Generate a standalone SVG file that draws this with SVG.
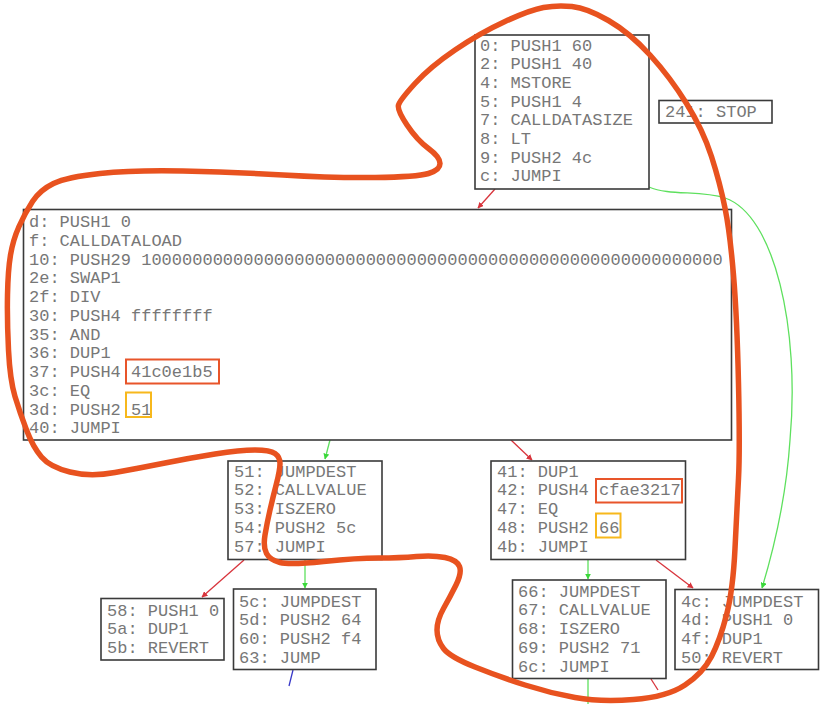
<svg xmlns="http://www.w3.org/2000/svg" width="827" height="704" viewBox="0 0 827 704">
<style>
.box{fill:#fff;stroke:#3a3a3a;stroke-width:1.6}
.t{font-family:"Liberation Mono","DejaVu Sans Mono",monospace;font-size:17px;fill:#777}
.e{fill:none;stroke-width:1.3}
.r{stroke:#d8343c}
.g{stroke:#5ee05e}
.b{stroke:#3838c8}
.hr{fill:none;stroke:#e8552a;stroke-width:2}
.hy{fill:none;stroke:#f7b81c;stroke-width:2}
.loop{fill:none;stroke:#e8521f;stroke-width:5.5;stroke-linejoin:round}
</style>
<defs>
<marker id="ar" viewBox="0 0 10 10" refX="9" refY="5" markerWidth="6" markerHeight="6" markerUnits="userSpaceOnUse" orient="auto"><path d="M0,0L10,5L0,10z" fill="#d8343c"/></marker>
<marker id="ag" viewBox="0 0 10 10" refX="9" refY="5" markerWidth="6" markerHeight="6" markerUnits="userSpaceOnUse" orient="auto"><path d="M0,0L10,5L0,10z" fill="#3ad83a"/></marker>
</defs>
<rect width="827" height="704" fill="#fff"/>
<g id="connectors">
<path class="e r" d="M495,189L478,208" marker-end="url(#ar)"/>
<path class="e g" d="M649,187C670,196 700,190 725,198C775,215 800,330 790,440C786,500 772,555 762,588" marker-end="url(#ag)"/>
<path class="e g" d="M330,440L325,459" marker-end="url(#ag)"/>
<path class="e r" d="M511,440L532,460" marker-end="url(#ar)"/>
<path class="e r" d="M244,560L202,597" marker-end="url(#ar)"/>
<path class="e g" d="M305,560L305,588" marker-end="url(#ag)"/>
<path class="e b" d="M293,670L289,686"/>
<path class="e g" d="M588,560L588,579" marker-end="url(#ag)"/>
<path class="e r" d="M656,560L693,588" marker-end="url(#ar)"/>
<path class="e g" d="M588,679L588,704"/>
<path class="e r" d="M651,679L658,690"/>
</g>
<g id="n0">
<rect class="box" x="475" y="35" width="174" height="154"/>
<text class="t" x="480" y="50.5">0: PUSH1 60</text>
<text class="t" x="480" y="69.2">2: PUSH1 40</text>
<text class="t" x="480" y="87.9">4: MSTORE</text>
<text class="t" x="480" y="106.6">5: PUSH1 4</text>
<text class="t" x="480" y="125.3">7: CALLDATASIZE</text>
<text class="t" x="480" y="144">8: LT</text>
<text class="t" x="480" y="162.7">9: PUSH2 4c</text>
<text class="t" x="480" y="181.4">c: JUMPI</text>
</g>
<g id="n241">
<rect class="box" x="659" y="100.5" width="113" height="22.5"/>
<text class="t" x="665" y="116.5">241: STOP</text>
</g>
<g id="nd">
<rect class="box" x="23.5" y="209.5" width="708" height="230.5"/>
<text class="t" x="29" y="227">d: PUSH1 0</text>
<text class="t" x="29" y="245.75">f: CALLDATALOAD</text>
<text class="t" x="29" y="264.5">10: PUSH29 100000000000000000000000000000000000000000000000000000000</text>
<text class="t" x="29" y="283.25">2e: SWAP1</text>
<text class="t" x="29" y="302">2f: DIV</text>
<text class="t" x="29" y="320.75">30: PUSH4 ffffffff</text>
<text class="t" x="29" y="339.5">35: AND</text>
<text class="t" x="29" y="358.25">36: DUP1</text>
<text class="t" x="29" y="377">37: PUSH4 41c0e1b5</text>
<text class="t" x="29" y="395.75">3c: EQ</text>
<text class="t" x="29" y="414.5">3d: PUSH2 51</text>
<text class="t" x="29" y="433.25">40: JUMPI</text>
<rect class="hr" x="126" y="359.5" width="93" height="24"/>
<rect class="hy" x="126" y="392.5" width="25" height="24.5"/>
</g>
<g id="n51">
<rect class="box" x="228" y="461" width="154" height="98.5"/>
<text class="t" x="234" y="476.7">51: JUMPDEST</text>
<text class="t" x="234" y="495.45">52: CALLVALUE</text>
<text class="t" x="234" y="514.2">53: ISZERO</text>
<text class="t" x="234" y="532.95">54: PUSH2 5c</text>
<text class="t" x="234" y="551.7">57: JUMPI</text>
</g>
<g id="n41">
<rect class="box" x="491" y="461" width="194.5" height="98.5"/>
<text class="t" x="497" y="476.7">41: DUP1</text>
<text class="t" x="497" y="495.45">42: PUSH4 cfae3217</text>
<text class="t" x="497" y="514.2">47: EQ</text>
<text class="t" x="497" y="532.95">48: PUSH2 66</text>
<text class="t" x="497" y="551.7">4b: JUMPI</text>
<rect class="hr" x="596" y="479" width="86" height="23.5"/>
<rect class="hy" x="596" y="513.5" width="24.5" height="24"/>
</g>
<g id="n58">
<rect class="box" x="101" y="598.5" width="123" height="61.5"/>
<text class="t" x="107" y="615.7">58: PUSH1 0</text>
<text class="t" x="107" y="634.45">5a: DUP1</text>
<text class="t" x="107" y="653.2">5b: REVERT</text>
</g>
<g id="n5c">
<rect class="box" x="233.5" y="589" width="142.5" height="80.5"/>
<text class="t" x="239" y="606.7">5c: JUMPDEST</text>
<text class="t" x="239" y="625.45">5d: PUSH2 64</text>
<text class="t" x="239" y="644.2">60: PUSH2 f4</text>
<text class="t" x="239" y="662.95">63: JUMP</text>
</g>
<g id="n66">
<rect class="box" x="512.5" y="580" width="153.5" height="98.5"/>
<text class="t" x="518" y="596.7">66: JUMPDEST</text>
<text class="t" x="518" y="615.45">67: CALLVALUE</text>
<text class="t" x="518" y="634.2">68: ISZERO</text>
<text class="t" x="518" y="652.95">69: PUSH2 71</text>
<text class="t" x="518" y="671.7">6c: JUMPI</text>
</g>
<g id="n4c">
<rect class="box" x="675" y="589.5" width="143.5" height="80"/>
<text class="t" x="681" y="606.7">4c: JUMPDEST</text>
<text class="t" x="681" y="625.45">4d: PUSH1 0</text>
<text class="t" x="681" y="644.2">4f: DUP1</text>
<text class="t" x="681" y="662.95">50: REVERT</text>
</g>
<path class="loop" d="M415,83.5 Q430,67 455,50 Q480,33 505,21.5 Q530,10 543.5,7.5 Q557,5 572,6.5 Q587,8 608.5,20.5 Q630,33 650,55 Q670,77 686.5,103.5 Q703,130 711.5,156.5 Q720,183 725,208 Q730,233 733.5,275 Q737,317 738.5,383.5 Q740,450 738.5,478.5 Q737,507 735,548.5 Q733,590 726.5,615 Q720,640 711.5,656.5 Q703,673 685,685 Q667,697 633.5,699.5 Q600,702 575,697.5 Q550,693 525,685 Q500,677 475,667 Q450,657 443.5,648.5 Q437,640 437,630 Q437,620 443.5,608.5 Q450,597 456,585 Q462,573 459.5,566.5 Q457,560 445,557.5 Q433,555 416.5,556.5 Q400,558 378.5,558 Q357,558 323.5,561.5 Q290,565 280,562.5 Q270,560 266.5,553.5 Q263,547 265,535 Q267,523 270,510 Q273,497 276.5,483.5 Q280,470 280,463.5 Q280,457 275,453.5 Q270,450 255,450 Q240,450 215,454 Q190,458 165,463 Q140,468 115,472.5 Q90,477 70,472 Q50,467 41.5,457 Q33,447 26.5,430 Q20,413 15,396.5 Q10,380 8.5,350 Q7,320 7.5,295 Q8,270 10.5,255 Q13,240 19,226.5 Q25,213 32.5,201.5 Q40,190 53.5,183.5 Q67,177 100,173.5 Q133,170 183,171 Q233,172 283,175 Q333,178 375,177.5 Q417,177 428.5,173.5 Q440,170 440,163.5 Q440,157 428.5,148.5 Q417,140 407,125 Q397,110 398.5,105 Q400,100 415,83.5 Z"/>
</svg>
